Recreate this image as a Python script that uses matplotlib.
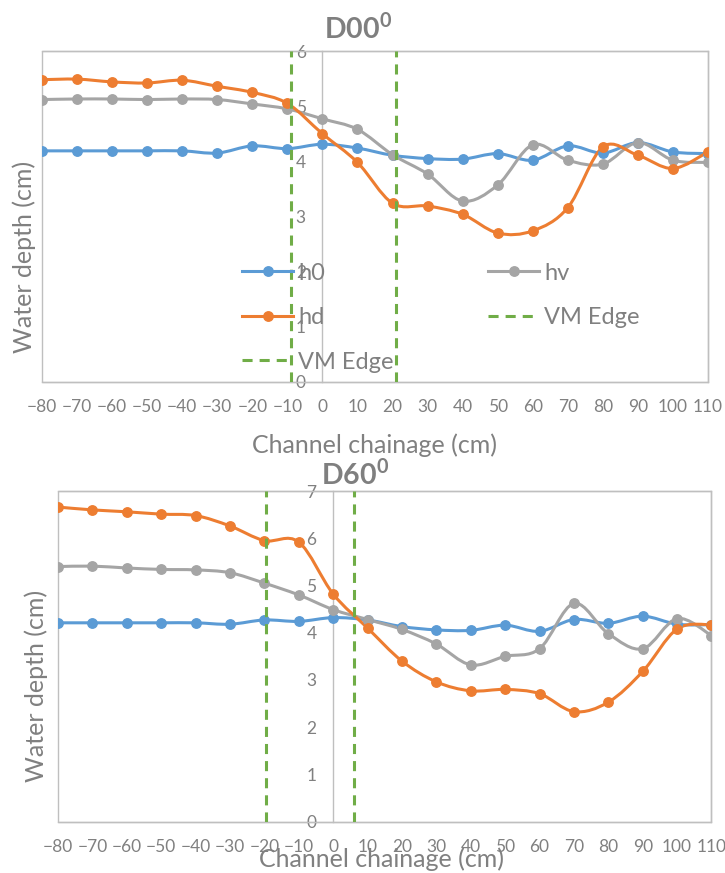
import numpy as np
import matplotlib
matplotlib.use("Agg")
import matplotlib.pyplot as plt
from matplotlib.path import Path
from matplotlib.patches import PathPatch, Rectangle
from matplotlib.lines import Line2D

plt.rcParams['font.family'] = ['Lato', 'DejaVu Sans']
plt.rcParams['mathtext.fontset'] = 'custom'
plt.rcParams['mathtext.rm'] = 'Lato'
plt.rcParams['mathtext.bf'] = 'Lato:bold'

# chainage (cm)
chainage = [-80, -70, -60, -50, -40, -30, -20, -10, 0, 10, 20, 30, 40, 50, 60, 70, 80, 90, 100, 110]

# D00 case
h0_d00 = [4.19, 4.19, 4.19, 4.19, 4.19, 4.15, 4.28, 4.23, 4.31, 4.24, 4.11, 4.05, 4.04, 4.14, 4.02, 4.28, 4.15, 4.34, 4.17, 4.14]
hv_d00 = [5.12, 5.13, 5.13, 5.12, 5.13, 5.12, 5.04, 4.95, 4.77, 4.58, 4.12, 3.77, 3.28, 3.57, 4.30, 4.02, 3.95, 4.34, 4.02, 3.98]
hd_d00 = [5.48, 5.49, 5.44, 5.42, 5.47, 5.36, 5.25, 5.05, 4.50, 3.98, 3.24, 3.19, 3.04, 2.70, 2.74, 3.16, 4.26, 4.11, 3.87, 4.17]
vm_d00 = [-9, 21]

# D60 case
h0_d60 = [4.21, 4.21, 4.21, 4.21, 4.21, 4.18, 4.27, 4.24, 4.32, 4.27, 4.13, 4.06, 4.05, 4.16, 4.03, 4.28, 4.20, 4.35, 4.18, 4.17]
hv_d60 = [5.40, 5.41, 5.37, 5.34, 5.33, 5.27, 5.05, 4.80, 4.49, 4.28, 4.07, 3.76, 3.32, 3.50, 3.66, 4.62, 3.98, 3.66, 4.30, 3.94]
hd_d60 = [6.66, 6.60, 6.56, 6.51, 6.48, 6.26, 5.95, 5.92, 4.82, 4.10, 3.40, 2.96, 2.77, 2.80, 2.71, 2.33, 2.53, 3.18, 4.08, 4.17]
vm_d60 = [-19.4, 6]

C_H0 = '#5B9BD5'
C_HV = '#A5A5A5'
C_HD = '#ED7D31'
C_VM = '#70AD47'
TXT = '#808080'
EDGE = '#BFBFBF'


def smooth_path(x, y):
    # excel style smoothed line (bezier through the points)
    p = np.column_stack([x, y]).astype(float)
    n = len(p)
    verts = [p[0]]
    codes = [Path.MOVETO]
    for i in range(n - 1):
        p0 = p[i - 1] if i > 0 else p[i]
        p3 = p[i + 2] if i + 2 < n else p[i + 1]
        c1 = p[i] + (p[i + 1] - p0) / 6
        c2 = p[i + 1] - (p3 - p[i]) / 6
        verts += [c1, c2, p[i + 1]]
        codes += [Path.CURVE4] * 3
    return Path(verts, codes)


def draw_series(ax, y, color):
    ax.add_patch(PathPatch(smooth_path(chainage, y), fill=False, edgecolor=color, lw=2.2,
                           capstyle='round', joinstyle='round', zorder=3))
    ax.plot(chainage, y, 'o', color=color, markersize=6.8, zorder=4)


def setup(ax, ymax, xpad, title, title_xy, ylab_xy, xlab_xy):
    ax.set_xlim(-80, 110)
    ax.set_ylim(0, ymax)
    ax.set_xticks(np.arange(-80, 111, 10))
    ax.set_yticks(np.arange(0, ymax + 1, 1))
    ax.spines['left'].set_position(('data', 0))
    for s in ax.spines.values():
        s.set_color(EDGE)
        s.set_linewidth(1)
    ax.add_patch(Rectangle((0, 0), 1, 1, transform=ax.transAxes, fill=False,
                           edgecolor=EDGE, lw=1, zorder=0.5, clip_on=False))
    ax.tick_params(axis='x', length=0, pad=xpad, labelsize=12.5, labelcolor=TXT)
    ax.tick_params(axis='y', length=0, pad=12, labelsize=12.5, labelcolor=TXT)
    ax.set_xlabel('Channel chainage (cm)', fontsize=18, color=TXT)
    ax.xaxis.label.set_va('center')
    ax.xaxis.set_label_coords(xlab_xy[0], xlab_xy[1])
    ax.set_ylabel('Water depth (cm)', fontsize=18, color=TXT)
    ax.yaxis.label.set_va('center')
    ax.yaxis.set_label_coords(ylab_xy[0], ylab_xy[1])
    ax.text(title_xy[0], title_xy[1], title, transform=ax.transAxes, ha='center', va='center',
            fontsize=20.5, fontweight='bold', color='#7F7F7F')


fig = plt.figure(figsize=(7.25, 8.73), dpi=100)

ax1 = fig.add_axes([42 / 725, 1 - 382 / 873, 666 / 725, 331 / 873])
setup(ax1, 6, 12.5, r'D00$^{\mathbf{0}}$', (0.474, 1.069), (-0.026, 0.378), (0.5, -0.19))
draw_series(ax1, h0_d00, C_H0)
draw_series(ax1, hv_d00, C_HV)
draw_series(ax1, hd_d00, C_HD)
for v in vm_d00:
    ax1.axvline(v, color=C_VM, lw=2.2, dashes=(3.3, 2.3), zorder=5)

handles = [
    Line2D([], [], color=C_H0, lw=2.2, marker='o', markersize=6.8),
    Line2D([], [], color=C_HD, lw=2.2, marker='o', markersize=6.8),
    Line2D([], [], color=C_VM, lw=2.2, dashes=(3.3, 2.3)),
    Line2D([], [], color=C_HV, lw=2.2, marker='o', markersize=6.8),
    Line2D([], [], color=C_VM, lw=2.2, dashes=(3.3, 2.3)),
]
labels = ['h0', 'hd', 'VM Edge', 'hv', 'VM Edge']
leg = ax1.legend(handles, labels, ncol=2, loc='upper left', bbox_to_anchor=(0.3008, 0.361),
                 frameon=False, fontsize=17, labelcolor=TXT, borderpad=0, borderaxespad=0,
                 handlelength=2.16, handletextpad=0.21, columnspacing=4.0, labelspacing=1.0)
leg.set_zorder(6)

ax2 = fig.add_axes([58 / 725, 1 - 821.7 / 873, 653.5 / 725, 330.7 / 873])
setup(ax2, 7, 12.2, r'D60$^{\mathbf{0}}$', (0.455, 1.05), (-0.034, 0.412), (0.495, -0.112))
draw_series(ax2, h0_d60, C_H0)
draw_series(ax2, hv_d60, C_HV)
draw_series(ax2, hd_d60, C_HD)
for v in vm_d60:
    ax2.axvline(v, color=C_VM, lw=2.2, dashes=(3.3, 2.3), zorder=5)

fig.savefig('out.png', dpi=100)
